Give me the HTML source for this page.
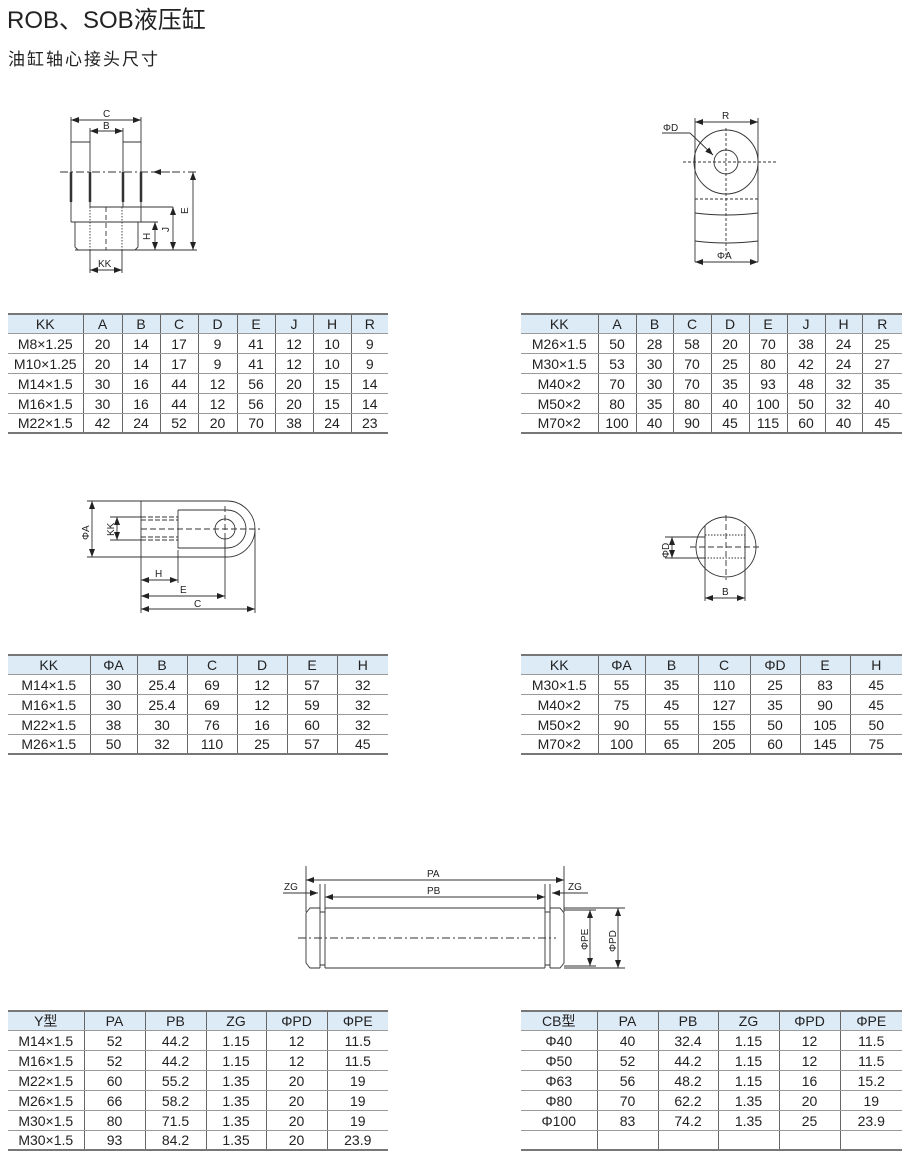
<!DOCTYPE html>
<html><head><meta charset="utf-8">
<style>
body{margin:0;width:908px;height:1150px;background:#fff;position:relative;overflow:hidden;font-family:"Liberation Sans","Noto Sans CJK SC",sans-serif;color:#222}
.t{position:absolute;border-collapse:collapse;font-size:14px;table-layout:fixed}
.t td{text-align:center;padding:0;height:19px;border-left:1px solid #666;border-bottom:1px solid #9a9a9a;line-height:18px;white-space:nowrap;overflow:hidden}
.t td:first-child{border-left:none}
.t tr:first-child td{background:#ddebf7;border-top:2px solid #777;height:18px}
.t tr:last-child td{border-bottom:2px solid #777;height:18px}
svg{position:absolute;left:0;top:0}
svg text{font-family:"Liberation Sans",sans-serif;font-size:10px;fill:#222}
</style></head><body>
<div style="position:absolute;left:7px;top:0px;font-size:24px;">ROB、SOB液压缸</div>
<div style="position:absolute;left:8px;top:45px;font-size:17px;letter-spacing:2px">油缸轴心接头尺寸</div>

<svg width="908" height="1150" viewBox="0 0 908 1150">
<defs><marker id="a" markerWidth="8" markerHeight="6" refX="8" refY="3" orient="auto-start-reverse" markerUnits="userSpaceOnUse"><path d="M0,0L8,3L0,6z" fill="#222"/></marker></defs>
<g stroke="#333" stroke-width="0.9" fill="none">
<path d="M71,117V222M141,117V222M90,128V207M123,128V207M71,142H90M123,142H141"/>
<line x1="71" y1="120" x2="141" y2="120" marker-start="url(#a)" marker-end="url(#a)"/>
<line x1="90" y1="131" x2="123" y2="131" marker-start="url(#a)" marker-end="url(#a)"/>
<line x1="60" y1="172" x2="197" y2="172" stroke-dasharray="8,3,2,3"/>
<path d="M71,172V202M90,172V202M123,172V202M141,172V202" stroke-width="2.5"/>
<path d="M90,207H173M71,222H158M75,222V247L78,250H135L138,247V222M75,250H197"/>
<path d="M90,207V250M122,207V250" stroke-dasharray="1.5,1.5"/>
<path d="M106,207V250" stroke-dasharray="5,3"/>
<path d="M90,250V273M122,250V273"/>
<line x1="90" y1="270" x2="122" y2="270" marker-start="url(#a)" marker-end="url(#a)"/>
<line x1="155" y1="222" x2="155" y2="250" marker-start="url(#a)" marker-end="url(#a)"/>
<line x1="173" y1="207" x2="173" y2="250" marker-start="url(#a)" marker-end="url(#a)"/>
<line x1="193" y1="172" x2="193" y2="250" marker-start="url(#a)" marker-end="url(#a)"/>
<line x1="170" y1="172" x2="153" y2="172" marker-end="url(#a)"/>
<path d="M695,118V262M758,118V262"/>
<line x1="695" y1="122" x2="758" y2="122" marker-start="url(#a)" marker-end="url(#a)"/>
<circle cx="726" cy="162" r="32"/><circle cx="726" cy="162" r="12"/>
<path d="M683,162H776M726,128V255M695,199H758" stroke-dasharray="3,2"/>
<path d="M695,213Q726,217 758,213M695,241Q726,245 758,241"/>
<line x1="695" y1="262" x2="758" y2="262" marker-start="url(#a)" marker-end="url(#a)"/>
<path d="M662,133H690"/><line x1="690" y1="133" x2="713" y2="155" marker-end="url(#a)"/>
<path d="M87,501H227A28,28 0 0 1 227,557H87M141,501V613"/>
<path d="M178,510H227A19,19 0 0 1 227,548H178V510"/>
<circle cx="225" cy="529" r="10"/>
<path d="M141,517H178M141,540H178M141,520H178M141,537H178" stroke-dasharray="5,2"/>
<path d="M141,529H260M225,506V552" stroke-dasharray="6,3"/>
<line x1="92" y1="501" x2="92" y2="557" marker-start="url(#a)" marker-end="url(#a)"/>
<path d="M110,517H141M110,540H141"/>
<line x1="117" y1="517" x2="117" y2="540" marker-start="url(#a)" marker-end="url(#a)"/>
<path d="M178,550V583M225,539V599M255,529V613"/>
<line x1="141" y1="580" x2="178" y2="580" marker-start="url(#a)" marker-end="url(#a)"/>
<line x1="141" y1="596" x2="225" y2="596" marker-start="url(#a)" marker-end="url(#a)"/>
<line x1="141" y1="609" x2="255" y2="609" marker-start="url(#a)" marker-end="url(#a)"/>
<circle cx="726" cy="547" r="30"/>
<path d="M705,535H745V558H705Z" stroke-dasharray="1.5,1.5"/>
<path d="M705,526V568M745,526V568M705,568V601M745,568V601"/>
<path d="M690,547H762M726,515V580" stroke-dasharray="6,3"/>
<path d="M665,537H705M665,558H705"/>
<line x1="672" y1="537" x2="672" y2="558" marker-start="url(#a)" marker-end="url(#a)"/>
<line x1="705" y1="598" x2="745" y2="598" marker-start="url(#a)" marker-end="url(#a)"/>
<path d="M306,866V912M564,866V912M320,884V910M325,884V910M545,884V910M550,884V910"/>
<line x1="306" y1="880" x2="564" y2="880" marker-start="url(#a)" marker-end="url(#a)"/>
<line x1="325" y1="897" x2="545" y2="897" marker-start="url(#a)" marker-end="url(#a)"/>
<line x1="283" y1="893" x2="318" y2="893" marker-end="url(#a)"/>
<line x1="588" y1="893" x2="552" y2="893" marker-end="url(#a)"/>
<path d="M325,908H545M325,968H545M325,908V968M545,908V968"/>
<path d="M320,912H325M320,965H325M545,912H550M545,965H550M320,908V968M550,908V968"/>
<path d="M320,908H310L306,913V963L310,968H320M550,908H560L564,913V963L560,968H550"/>
<path d="M298,938H556" stroke-dasharray="8,3,2,3"/>
<path d="M564,910H596M564,966H596M564,908H625M564,968H625"/>
<line x1="590" y1="910" x2="590" y2="966" marker-start="url(#a)" marker-end="url(#a)"/>
<line x1="618" y1="908" x2="618" y2="968" marker-start="url(#a)" marker-end="url(#a)"/>
</g>
<text x="103" y="117">C</text><text x="103" y="129">B</text><text x="98" y="267">KK</text>
<text transform="translate(150,240) rotate(-90)">H</text>
<text transform="translate(169,232) rotate(-90)">J</text>
<text transform="translate(188,214) rotate(-90)">E</text>
<text x="722" y="119">R</text><text x="717" y="259">ΦA</text><text x="663" y="131">ΦD</text>
<text transform="translate(89,540) rotate(-90)">ΦA</text>
<text transform="translate(114,536) rotate(-90)">KK</text>
<text x="155" y="577">H</text><text x="180" y="593">E</text><text x="194" y="607">C</text>
<text transform="translate(669,558) rotate(-90)">ΦD</text>
<text x="722" y="595">B</text>
<text x="427" y="877">PA</text><text x="427" y="894">PB</text>
<text x="284" y="890">ZG</text><text x="568" y="890">ZG</text>
<text transform="translate(588,950) rotate(-90)">ΦPE</text>
<text transform="translate(616,952) rotate(-90)">ΦPD</text>
</svg>

<table class="t" style="left:8px;top:313px;width:380px">
<colgroup><col style="width:75px"><col style="width:39px"><col style="width:38px"><col style="width:38px"><col style="width:39px"><col style="width:38px"><col style="width:38px"><col style="width:38px"><col style="width:37px"></colgroup>
<tr><td>KK</td><td>A</td><td>B</td><td>C</td><td>D</td><td>E</td><td>J</td><td>H</td><td>R</td></tr>
<tr><td>M8×1.25</td><td>20</td><td>14</td><td>17</td><td>9</td><td>41</td><td>12</td><td>10</td><td>9</td></tr>
<tr><td>M10×1.25</td><td>20</td><td>14</td><td>17</td><td>9</td><td>41</td><td>12</td><td>10</td><td>9</td></tr>
<tr><td>M14×1.5</td><td>30</td><td>16</td><td>44</td><td>12</td><td>56</td><td>20</td><td>15</td><td>14</td></tr>
<tr><td>M16×1.5</td><td>30</td><td>16</td><td>44</td><td>12</td><td>56</td><td>20</td><td>15</td><td>14</td></tr>
<tr><td>M22×1.5</td><td>42</td><td>24</td><td>52</td><td>20</td><td>70</td><td>38</td><td>24</td><td>23</td></tr>
</table>

<table class="t" style="left:521px;top:313px;width:381px">
<colgroup><col style="width:77px"><col style="width:38px"><col style="width:37px"><col style="width:38px"><col style="width:38px"><col style="width:38px"><col style="width:38px"><col style="width:37px"><col style="width:40px"></colgroup>
<tr><td>KK</td><td>A</td><td>B</td><td>C</td><td>D</td><td>E</td><td>J</td><td>H</td><td>R</td></tr>
<tr><td>M26×1.5</td><td>50</td><td>28</td><td>58</td><td>20</td><td>70</td><td>38</td><td>24</td><td>25</td></tr>
<tr><td>M30×1.5</td><td>53</td><td>30</td><td>70</td><td>25</td><td>80</td><td>42</td><td>24</td><td>27</td></tr>
<tr><td>M40×2</td><td>70</td><td>30</td><td>70</td><td>35</td><td>93</td><td>48</td><td>32</td><td>35</td></tr>
<tr><td>M50×2</td><td>80</td><td>35</td><td>80</td><td>40</td><td>100</td><td>50</td><td>32</td><td>40</td></tr>
<tr><td>M70×2</td><td>100</td><td>40</td><td>90</td><td>45</td><td>115</td><td>60</td><td>40</td><td>45</td></tr>
</table>

<table class="t" style="left:8px;top:654px;width:380px">
<colgroup><col style="width:82px"><col style="width:47px"><col style="width:50px"><col style="width:50px"><col style="width:50px"><col style="width:50px"><col style="width:51px"></colgroup>
<tr><td>KK</td><td>ΦA</td><td>B</td><td>C</td><td>D</td><td>E</td><td>H</td></tr>
<tr><td>M14×1.5</td><td>30</td><td>25.4</td><td>69</td><td>12</td><td>57</td><td>32</td></tr>
<tr><td>M16×1.5</td><td>30</td><td>25.4</td><td>69</td><td>12</td><td>59</td><td>32</td></tr>
<tr><td>M22×1.5</td><td>38</td><td>30</td><td>76</td><td>16</td><td>60</td><td>32</td></tr>
<tr><td>M26×1.5</td><td>50</td><td>32</td><td>110</td><td>25</td><td>57</td><td>45</td></tr>
</table>

<table class="t" style="left:521px;top:654px;width:381px">
<colgroup><col style="width:77px"><col style="width:47px"><col style="width:53px"><col style="width:52px"><col style="width:50px"><col style="width:50px"><col style="width:52px"></colgroup>
<tr><td>KK</td><td>ΦA</td><td>B</td><td>C</td><td>ΦD</td><td>E</td><td>H</td></tr>
<tr><td>M30×1.5</td><td>55</td><td>35</td><td>110</td><td>25</td><td>83</td><td>45</td></tr>
<tr><td>M40×2</td><td>75</td><td>45</td><td>127</td><td>35</td><td>90</td><td>45</td></tr>
<tr><td>M50×2</td><td>90</td><td>55</td><td>155</td><td>50</td><td>105</td><td>50</td></tr>
<tr><td>M70×2</td><td>100</td><td>65</td><td>205</td><td>60</td><td>145</td><td>75</td></tr>
</table>

<table class="t" style="left:8px;top:1010px;width:380px">
<colgroup><col style="width:76px"><col style="width:61px"><col style="width:61px"><col style="width:60px"><col style="width:61px"><col style="width:61px"></colgroup>
<tr><td>Y型</td><td>PA</td><td>PB</td><td>ZG</td><td>ΦPD</td><td>ΦPE</td></tr>
<tr><td>M14×1.5</td><td>52</td><td>44.2</td><td>1.15</td><td>12</td><td>11.5</td></tr>
<tr><td>M16×1.5</td><td>52</td><td>44.2</td><td>1.15</td><td>12</td><td>11.5</td></tr>
<tr><td>M22×1.5</td><td>60</td><td>55.2</td><td>1.35</td><td>20</td><td>19</td></tr>
<tr><td>M26×1.5</td><td>66</td><td>58.2</td><td>1.35</td><td>20</td><td>19</td></tr>
<tr><td>M30×1.5</td><td>80</td><td>71.5</td><td>1.35</td><td>20</td><td>19</td></tr>
<tr><td>M30×1.5</td><td>93</td><td>84.2</td><td>1.35</td><td>20</td><td>23.9</td></tr>
</table>

<table class="t" style="left:521px;top:1010px;width:381px">
<colgroup><col style="width:76px"><col style="width:61px"><col style="width:60px"><col style="width:61px"><col style="width:61px"><col style="width:62px"></colgroup>
<tr><td>CB型</td><td>PA</td><td>PB</td><td>ZG</td><td>ΦPD</td><td>ΦPE</td></tr>
<tr><td>Φ40</td><td>40</td><td>32.4</td><td>1.15</td><td>12</td><td>11.5</td></tr>
<tr><td>Φ50</td><td>52</td><td>44.2</td><td>1.15</td><td>12</td><td>11.5</td></tr>
<tr><td>Φ63</td><td>56</td><td>48.2</td><td>1.15</td><td>16</td><td>15.2</td></tr>
<tr><td>Φ80</td><td>70</td><td>62.2</td><td>1.35</td><td>20</td><td>19</td></tr>
<tr><td>Φ100</td><td>83</td><td>74.2</td><td>1.35</td><td>25</td><td>23.9</td></tr>
<tr><td>&nbsp;</td><td></td><td></td><td></td><td></td><td></td></tr>
</table>
</body></html>
